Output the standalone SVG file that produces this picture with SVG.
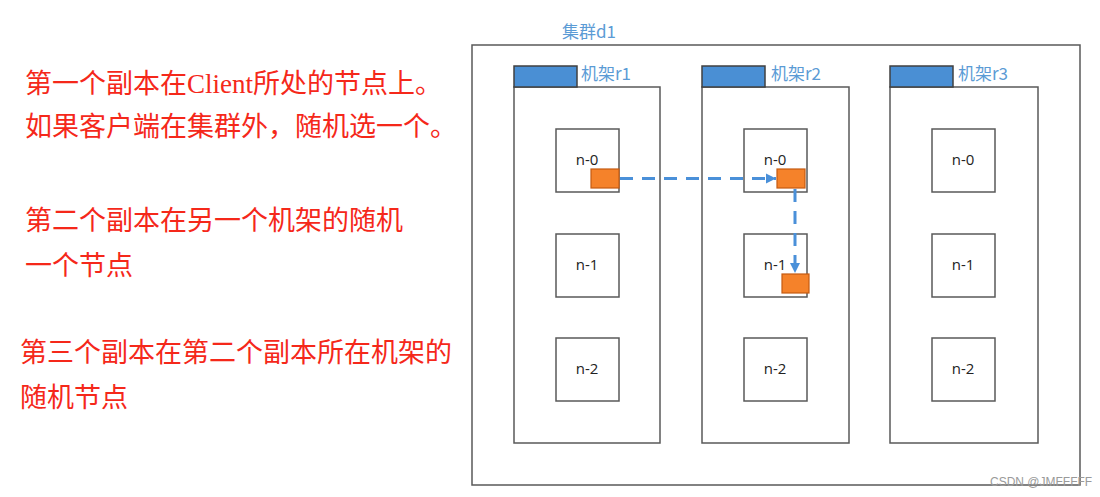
<svg xmlns="http://www.w3.org/2000/svg" width="1100" height="497" viewBox="0 0 1100 497">
<style>
.note{font-family:"Noto Sans CJK SC","Noto Sans",sans-serif;font-size:27px;fill:#f5281a}
.en{font-family:"Liberation Serif",serif}
.blue{font-family:"Noto Sans CJK SC","Noto Sans",sans-serif;font-size:17px;fill:#5b9bd5}
.box{fill:#fff;stroke:#595959;stroke-width:1.5}
.tab{fill:#4a8fd4;stroke:#404040;stroke-width:1.5}
.nlabel{font-family:"Open Sans","Noto Sans",sans-serif;font-size:15px;fill:#222;text-anchor:middle}
.rep{fill:#f5822a;stroke:#c55a11;stroke-width:1.2}
.edge{stroke:#4a90d9;stroke-width:3;stroke-dasharray:13 9;fill:none}
</style>
<defs>
<marker id="ah" markerWidth="11" markerHeight="11" refX="10" refY="5.5" orient="auto" markerUnits="userSpaceOnUse">
<path d="M0,0.5 L10,5.5 L0,10.5 z" fill="#4a90d9"/>
</marker>
</defs>
<rect width="1100" height="497" fill="#fff"/>
<g id="notes">
<text class="note" x="25" y="93" font-size="26">第一个副本在<tspan class="en">Client</tspan>所处的节点上。</text>
<text class="note" x="25" y="136">如果客户端在集群外，随机选一个。</text>
<text class="note" x="25" y="230">第二个副本在另一个机架的随机</text>
<text class="note" x="25" y="275">一个节点</text>
<text class="note" x="20" y="362">第三个副本在第二个副本所在机架的</text>
<text class="note" x="20" y="407">随机节点</text>
</g>
<g id="cluster">
<rect class="box" x="472" y="45" width="608" height="440"/>
<text class="blue" x="562" y="38">集群d1</text>
</g>
<g id="rack-r1">
<rect class="box" x="514" y="87" width="146" height="356"/>
<rect class="tab" x="514" y="66" width="63" height="21"/>
<text class="blue" x="581" y="80">机架r1</text>
</g>
<g id="rack-r2">
<rect class="box" x="702" y="87" width="147" height="356"/>
<rect class="tab" x="702" y="66" width="63" height="21"/>
<text class="blue" x="771" y="80">机架r2</text>
</g>
<g id="rack-r3">
<rect class="box" x="890" y="87" width="148" height="356"/>
<rect class="tab" x="890" y="66" width="63" height="21"/>
<text class="blue" x="958" y="80">机架r3</text>
</g>
<g id="r1-n0"><rect class="box" x="556" y="129" width="63" height="63"/><text class="nlabel" x="587" y="165">n-0</text></g>
<g id="r1-n1"><rect class="box" x="556" y="234" width="63" height="63"/><text class="nlabel" x="587" y="270">n-1</text></g>
<g id="r1-n2"><rect class="box" x="556" y="338" width="63" height="63"/><text class="nlabel" x="587" y="374">n-2</text></g>
<g id="r2-n0"><rect class="box" x="744" y="129" width="63" height="63"/><text class="nlabel" x="775" y="165">n-0</text></g>
<g id="r2-n1"><rect class="box" x="744" y="234" width="63" height="63"/><text class="nlabel" x="775" y="270">n-1</text></g>
<g id="r2-n2"><rect class="box" x="744" y="338" width="63" height="63"/><text class="nlabel" x="775" y="374">n-2</text></g>
<g id="r3-n0"><rect class="box" x="932" y="129" width="63" height="63"/><text class="nlabel" x="963" y="165">n-0</text></g>
<g id="r3-n1"><rect class="box" x="932" y="234" width="63" height="63"/><text class="nlabel" x="963" y="270">n-1</text></g>
<g id="r3-n2"><rect class="box" x="932" y="338" width="63" height="63"/><text class="nlabel" x="963" y="374">n-2</text></g>
<g id="replicas">
<rect class="rep" x="591" y="169" width="28" height="19"/>
<rect class="rep" x="777" y="169" width="28" height="19"/>
<rect class="rep" x="782" y="274" width="27" height="19"/>
</g>
<g id="connectors">
<path class="edge" d="M620,178.5 H776" marker-end="url(#ah)"/>
<path class="edge" d="M795,189 V273" marker-end="url(#ah)"/>
</g>
<text x="990" y="486" font-family="Liberation Sans,sans-serif" font-size="12" fill="#9a9a9a">CSDN @JMFFFFF</text>
</svg>
